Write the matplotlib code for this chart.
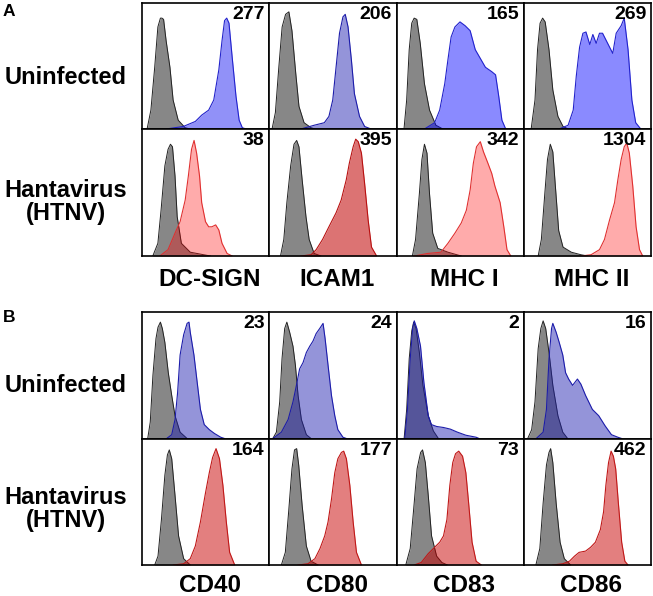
import numpy as np
import matplotlib.pyplot as plt

plt.rcParams['font.family'] = ['Liberation Sans', 'DejaVu Sans']

# markers and MFI values
markers_a = ['DC-SIGN', 'ICAM1', 'MHC I', 'MHC II']
markers_b = ['CD40', 'CD80', 'CD83', 'CD86']
mfi_a_uninf = ['277', '206', '165', '269']
mfi_a_htnv = ['38', '395', '342', '1304']
mfi_b_uninf = ['23', '24', '2', '16']
mfi_b_htnv = ['164', '177', '73', '462']

# histograms: (% of channel range, % of max count)
# panel A, uninfected
iso_dcsign_u = [(4, 0), (7, 15), (10, 49), (12.5, 81), (14.5, 88), (15.7, 88), (17, 87), (19, 70), (22, 49), (24.5, 23), (28.5, 7), (34, 1), (38, 0)]
stn_dcsign_u = [(19, 0), (32.5, 2), (42, 6), (47, 11), (52.5, 15), (56.5, 23), (60.5, 47), (63, 70), (65, 86), (66.7, 88), (68.5, 84), (71, 57), (74, 26), (76.5, 7), (79, 1), (82, 0)]
iso_icam1_u = [(2.4, 0), (5, 13), (7.7, 49), (10.3, 81), (13, 91), (15.6, 93), (18, 78), (21, 44), (23.5, 18), (27.5, 5), (33, 1), (36, 0)]
stn_icam1_u = [(25, 0), (35.5, 3), (43.4, 5), (47, 10), (50, 23), (52.6, 49), (55.3, 76), (58, 89), (59.8, 91), (62, 81), (64.6, 55), (67, 28), (71, 10), (75, 2), (80, 0)]
iso_mhc1_u = [(5.9, 0), (8, 23), (10, 63), (12, 84), (13.9, 88), (16, 87), (18.7, 68), (22, 36), (26, 15), (31, 3), (36.5, 0)]
stn_mhc1_u = [(22, 0), (30, 5), (34, 15), (38, 36), (40.5, 55), (43, 73), (46, 81), (50, 85), (54, 82), (58, 78), (62, 63), (66, 56), (70, 49), (75, 45.5), (78, 43), (80.5, 26), (83, 7), (86, 0)]
iso_mhc2_u = [(6, 0), (9, 23), (11, 63), (13, 84), (15, 88), (17, 85), (20, 63), (23, 31), (27, 10), (31, 2), (35, 0)]
stn_mhc2_u = [(28, 0), (35, 3), (39, 15), (41.4, 42), (44, 65), (46.6, 76), (49, 77), (52, 67), (54.4, 75), (57, 68), (59.6, 76), (62, 76), (66, 68), (70, 60), (72.7, 76), (76.6, 82), (79, 88), (82, 63), (85, 23), (88, 5), (92, 0)]
# panel A, HTNV
iso_dcsign_h = [(8.5, 0), (12.5, 10), (15, 36), (18, 71), (20.5, 84), (22.4, 88), (24, 86), (26, 63), (27.7, 31), (31, 10), (38, 3), (48.5, 1), (54, 0)]
stn_dcsign_h = [(14, 0), (20.5, 5), (26, 18), (30, 27), (34, 44), (36.5, 63), (39, 84), (41, 91), (43, 81), (45.3, 63), (47, 42), (50, 27), (52.5, 23), (55, 23), (58, 24.5), (60.5, 20.5), (63, 10), (67, 2), (71, 0)]
iso_icam1_h = [(9, 0), (11.6, 13), (14, 42), (17, 71), (19.6, 88), (21.7, 91), (23.5, 86), (26, 60), (29, 31), (31.5, 13), (35.4, 2), (40.7, 0)]
stn_icam1_h = [(25, 0), (33, 1), (37, 5), (42, 13), (47, 23), (52.6, 34), (56.6, 44), (60.6, 60), (63, 73), (66, 86), (68, 92), (70, 90), (72.5, 81), (75, 57), (77.8, 28), (80.4, 7), (84.4, 0)]
iso_mhc1_h = [(12.5, 0), (15, 13), (18, 49), (20, 76), (22, 88), (24, 81), (26, 49), (28.5, 18), (32.5, 6), (40.5, 3), (51, 0)]
stn_mhc1_h = [(14, 0), (24.5, 2), (35, 3), (40.5, 10), (46, 18), (51, 26), (55, 36), (58, 52), (60.5, 73), (63, 86), (66, 90), (68.5, 82), (72, 73), (75, 65), (77.5, 55), (81.6, 42), (84.5, 23), (87, 5), (90, 0)]
iso_mhc2_h = [(11.5, 0), (14, 13), (16.7, 49), (18.8, 76), (21, 88), (23, 82), (25, 55), (27.6, 20), (31, 7), (37.5, 3), (45, 1), (50.5, 0)]
stn_mhc2_h = [(45, 0), (53, 1), (59.6, 5), (63.5, 13), (67.4, 28), (71.4, 42), (74, 60), (76.6, 76), (79, 86), (81, 89), (83, 81), (85.7, 55), (88.3, 23), (91, 5), (93.5, 0)]
# panel B, uninfected
iso_cd40_u = [(4.5, 0), (6.5, 13), (8.6, 50), (11, 79), (12.6, 88), (14.5, 92), (16, 87), (18, 76), (20.7, 52), (23.4, 34), (26, 18), (30, 5), (35.5, 0)]
stn_cd40_u = [(19.4, 0), (23.4, 3), (26, 15), (28, 36), (30, 66), (32.8, 82), (35.5, 91), (37, 92), (38, 84), (40.9, 66), (43.5, 44), (46, 23), (49, 11), (53, 7), (57, 4), (62, 1), (65, 0)]
iso_cd80_u = [(3, 0), (5.8, 5), (8.4, 29), (10.2, 63), (12.3, 87), (14, 92), (16.2, 84), (18.8, 73), (20.7, 58), (22.8, 34), (25.4, 15), (29.3, 3), (33, 0)]
stn_cd80_u = [(3, 0), (9.7, 5), (15, 15), (18.8, 29), (21.5, 42), (24, 55), (26.7, 60), (29.3, 68), (32, 73), (34.5, 77), (37, 83), (39.8, 87), (42.4, 91), (44, 79), (46.3, 58), (49, 34), (51.6, 18), (54, 7), (58, 1), (60.7, 0)]
iso_cd83_u = [(6, 0), (8, 23), (10, 63), (12, 85), (13.5, 92), (15.4, 87), (18, 68), (20.8, 42), (25, 18), (29, 6), (33, 0)]
stn_cd83_u = [(6.5, 0), (8.6, 23), (10.8, 63), (12.7, 87), (14, 93), (16, 87), (18.9, 73), (21.6, 44), (25, 18), (27.5, 11), (31.6, 9.5), (37, 8.7), (42.4, 7.4), (48, 5), (54.6, 2.6), (62.7, 1), (65, 0)]
iso_cd86_u = [(3.3, 0), (6.4, 7), (9, 29), (11.5, 71), (13.6, 87), (15.4, 93), (17.4, 87), (20, 68), (23, 42), (27, 18), (30.8, 5), (34.6, 0)]
stn_cd86_u = [(10, 0), (15.4, 5), (18, 23), (20, 63), (22, 87), (23, 91), (25.6, 84), (28, 76), (30.8, 66), (33, 52), (35.4, 47), (38.5, 42), (42.3, 47), (45, 43), (48.7, 34), (54, 23), (59, 18), (64, 10), (69, 3), (74, 1), (77, 0)]
# panel B, HTNV
iso_cd40_h = [(10, 0), (12.6, 7), (15.3, 36), (18, 71), (20, 87), (21.5, 91), (23.4, 84), (26, 55), (28.8, 23), (32.8, 5), (38, 0)]
stn_cd40_h = [(24.7, 0), (32.8, 1), (38, 5), (42, 15), (46, 34), (50, 57), (53, 73), (55.6, 85), (58.3, 92), (61, 84), (63.7, 63), (66.4, 34), (69, 10), (73, 0)]
iso_cd80_h = [(9.7, 0), (12.8, 10), (15.4, 42), (18, 76), (20, 91), (21.7, 92), (23.3, 79), (26, 47), (29.3, 15), (33, 3), (38.5, 0)]
stn_cd80_h = [(22.8, 0), (30.6, 1), (36, 5), (40, 13), (43.7, 23), (46.3, 34), (49, 52), (51.6, 73), (54, 84), (56.8, 89), (58.6, 90), (60.7, 84), (63.4, 63), (66, 34), (68.6, 10), (72.5, 0)]
iso_cd83_h = [(7.3, 0), (10.8, 13), (13.5, 44), (16.2, 76), (19, 89), (20.5, 91), (22.7, 81), (25, 55), (27.6, 23), (31.6, 7), (35.7, 2), (40, 0)]
stn_cd83_h = [(14, 0), (19.5, 2), (25, 9), (30, 14), (34, 18), (37, 23), (39.7, 36), (42, 63), (44.3, 81), (46.5, 88), (49, 90), (52, 86), (54.6, 73), (56.8, 49), (59.5, 18), (62.7, 3), (66.8, 0)]
iso_cd86_h = [(9.7, 0), (12.8, 13), (15.4, 49), (18, 79), (20, 89), (21.3, 92), (23, 81), (25.6, 49), (28.7, 18), (32, 5), (37, 0)]
stn_cd86_h = [(23, 0), (30.8, 1), (36, 3), (40, 7), (43.6, 10), (48.7, 11), (52.6, 14), (56.4, 18), (60.3, 28), (62.8, 42), (64.6, 63), (66.7, 81), (68.7, 90), (70.5, 86), (72.3, 76), (74.4, 49), (77, 18), (79.5, 3), (82, 0)]

rows = [
    (iso_dcsign_u, stn_dcsign_u), (iso_icam1_u, stn_icam1_u), (iso_mhc1_u, stn_mhc1_u), (iso_mhc2_u, stn_mhc2_u),
    (iso_dcsign_h, stn_dcsign_h), (iso_icam1_h, stn_icam1_h), (iso_mhc1_h, stn_mhc1_h), (iso_mhc2_h, stn_mhc2_h),
    (iso_cd40_u, stn_cd40_u), (iso_cd80_u, stn_cd80_u), (iso_cd83_u, stn_cd83_u), (iso_cd86_u, stn_cd86_u),
    (iso_cd40_h, stn_cd40_h), (iso_cd80_h, stn_cd80_h), (iso_cd83_h, stn_cd83_h), (iso_cd86_h, stn_cd86_h),
]
mfis = mfi_a_uninf + mfi_a_htnv + mfi_b_uninf + mfi_b_htnv

# fill colour, alpha, edge colour for the stained histogram of each cell
bright_blue = ('#0000ff', 0.46, '#2222cc')
muted_blue = ('#2020b0', 0.48, '#1c1caa')
light_red = ('#ff0000', 0.33, '#e03030')
dark_red = ('#c80000', 0.5, '#c01818')
styles = [('#1010f0', 0.46, '#2222cc'), muted_blue, bright_blue, bright_blue,
          light_red, ('#c00000', 0.55, '#b81010'), light_red, light_red,
          muted_blue, muted_blue, muted_blue, muted_blue,
          dark_red, dark_red, dark_red, dark_red]

W, H = 653, 596
fig = plt.figure(figsize=(W / 100, H / 100), dpi=100)

col_x = [142, 269, 396.5, 523.5, 651]
row_y = [3, 129, 256, 312, 438.5, 565]
row_pairs = [(0, 1), (1, 2), (3, 4), (4, 5)]

k = 0
for r, (yt, yb) in enumerate(row_pairs):
    for c in range(4):
        x0, x1 = col_x[c], col_x[c + 1]
        y0, y1 = row_y[yt], row_y[yb]
        ax = fig.add_axes([x0 / W, 1 - y1 / H, (x1 - x0) / W, (y1 - y0) / H])
        iso, stn = rows[k]
        ix, iy = zip(*iso)
        sx, sy = zip(*stn)
        ax.fill_between(ix, iy, color='#878787', lw=0, zorder=1)
        ax.plot(ix, iy, color='#222222', lw=0.7, zorder=2)
        fc, al, ec = styles[k]
        ax.fill_between(sx, sy, color=fc, alpha=al, lw=0, zorder=3)
        ax.plot(sx, sy, color=ec, lw=0.8, zorder=4)
        ax.text(0.965, 0.975, mfis[k], transform=ax.transAxes, ha='right', va='top',
                fontsize=14, fontweight='bold', zorder=5)
        ax.set_xlim(0, 100)
        ax.set_ylim(0, 100)
        ax.set_xticks([])
        ax.set_yticks([])
        for s in ax.spines.values():
            s.set_linewidth(1.2)
            s.set_color('black')
            s.set_zorder(6)
        k += 1

# panel letters
fig.text(3 / W, 1 - 12 / H, 'A', fontsize=12.5, fontweight='bold', ha='left', va='center')
fig.text(3 / W, 1 - 318 / H, 'B', fontsize=12.5, fontweight='bold', ha='left', va='center')

# row labels
for yc in [78, 386]:
    fig.text(66 / W, 1 - yc / H, 'Uninfected', fontsize=17, fontweight='bold', ha='center', va='center')
for yc in [202, 509]:
    fig.text(66 / W, 1 - yc / H, 'Hantavirus\n(HTNV)', fontsize=17, fontweight='bold',
             ha='center', va='center', linespacing=1.05)

# column labels
for c in range(4):
    xc = (col_x[c] + col_x[c + 1]) / 2 + 4
    fig.text(xc / W, 1 - 280 / H, markers_a[c], fontsize=17.5, fontweight='bold', ha='center', va='center')
    fig.text(xc / W, 1 - 585 / H, markers_b[c], fontsize=17.5, fontweight='bold', ha='center', va='center')

fig.savefig('out.png', dpi=100)
